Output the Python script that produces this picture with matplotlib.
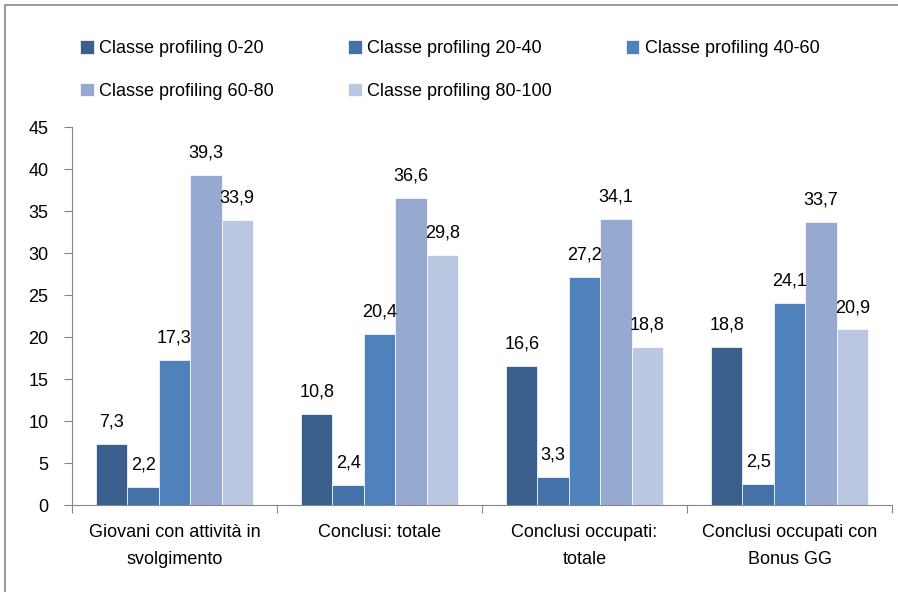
import matplotlib.pyplot as plt
import numpy as np
from matplotlib.patches import Rectangle

categories = ["Giovani con attività in\nsvolgimento", "Conclusi: totale",
              "Conclusi occupati:\ntotale", "Conclusi occupati con\nBonus GG"]
series_names = ["Classe profiling 0-20", "Classe profiling 20-40", "Classe profiling 40-60",
                "Classe profiling 60-80", "Classe profiling 80-100"]
v_0_20 = [7.3, 10.8, 16.6, 18.8]
v_20_40 = [2.2, 2.4, 3.3, 2.5]
v_40_60 = [17.3, 20.4, 27.2, 24.1]
v_60_80 = [39.3, 36.6, 34.1, 33.7]
v_80_100 = [33.9, 29.8, 18.8, 20.9]
colors = ["#3A5F8D", "#4371A8", "#4F81BD", "#95A9D1", "#BAC7E0"]

plt.rcParams['font.family'] = ['Liberation Sans', 'DejaVu Sans']
fs = 13
fig = plt.figure(figsize=(8.98, 5.92), dpi=100)
ax = fig.add_axes([72 / 898, 1 - 505 / 592, 820 / 898, 378 / 592])

x = np.arange(len(categories))
w = 0.153
all_vals = [v_0_20, v_20_40, v_40_60, v_60_80, v_80_100]
handles = []
for i, (vals, name, c) in enumerate(zip(all_vals, series_names, colors)):
    pos = x + (i - 2) * w
    b = ax.bar(pos, vals, w, color=c, label=name, edgecolor='white', linewidth=0.5)
    handles.append(b)
    for p, v in zip(pos, vals):
        ax.text(p, v + 1.6, f"{v:.1f}".replace('.', ','), ha='center', va='bottom', fontsize=fs)

ax.set_xlim(-0.5, len(categories) - 0.5)
ax.set_ylim(0, 45)
ax.set_yticks(range(0, 46, 5))
ax.set_xticks(np.arange(-0.5, len(categories), 1.0))
ax.set_xticklabels([])
ax.set_xticks(x, minor=True)
ax.set_xticklabels(categories, minor=True, fontsize=fs, linespacing=1.7)
ax.tick_params(axis='x', which='minor', length=0, pad=14)
ax.tick_params(axis='x', which='major', length=6, color='#868686', direction='out')
ax.tick_params(axis='y', length=6, color='#868686', labelsize=fs, pad=11)
for s in ['top', 'right']:
    ax.spines[s].set_visible(False)
for s in ['left', 'bottom']:
    ax.spines[s].set_color('#868686')

order = [0, 3, 1, 4, 2]
fig.legend([handles[k] for k in order], [series_names[k] for k in order],
           loc='upper left', bbox_to_anchor=(64 / 898, 1 - 24 / 592), ncol=3, frameon=False,
           fontsize=fs, handlelength=0.75, handleheight=0.75, handletextpad=0.3,
           columnspacing=4.1, labelspacing=1.4)

fig.patches.append(Rectangle((5 / 898, -0.1), 1.2, 1.1 - 5 / 592, transform=fig.transFigure,
                             fill=False, edgecolor='#868686', linewidth=1.2))

fig.savefig("out.png", dpi=100)
